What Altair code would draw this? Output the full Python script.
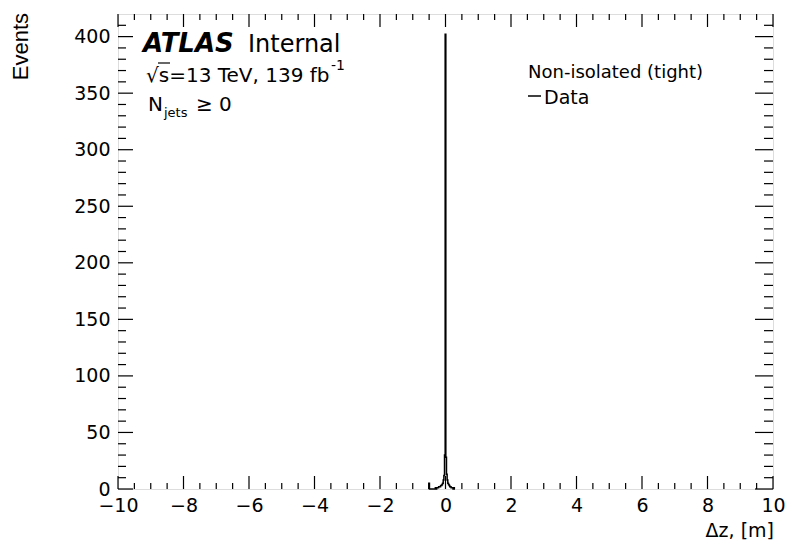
import altair as alt
import pandas as pd

# ---- data ----
dz_center = [-0.50, -0.30, -0.28, -0.26, -0.24, -0.22, -0.20, -0.18, -0.16, -0.14,
             -0.12, -0.10, -0.08, -0.06, -0.04, -0.02, 0.00, 0.02, 0.04, 0.06,
             0.08, 0.10, 0.12, 0.14, 0.16, 0.18, 0.20, 0.22, 0.24, 0.26, 0.28]
events = [5, 1, 0, 1, 1, 1, 2, 2, 2, 3,
          3, 4, 5, 8, 12, 30, 402, 28, 13, 8,
          5, 4, 3, 2, 2, 1, 1, 1, 0, 1, 0]
BIN_W = 0.02

x_major = [-10, -8, -6, -4, -2, 0, 2, 4, 6, 8, 10]
y_major = [0, 50, 100, 150, 200, 250, 300, 350, 400]
x_minor_step = 0.5
y_minor_step = 10

W, H = 655, 475
X_DOM = [-10, 10]
Y_DOM = [0, 420]
FONT = "DejaVu Sans"

# outline of the histogram (step line)
pts = []
prev_hi = None
for c, n in zip(dz_center, events):
    lo, hi = c - BIN_W / 2, c + BIN_W / 2
    if prev_hi is None or abs(lo - prev_hi) > 1e-9:
        if prev_hi is not None:
            pts.append((prev_hi, 0))
        pts.append((lo, 0))
    pts.append((lo, n))
    pts.append((hi, n))
    prev_hi = hi
pts.append((prev_hi, 0))
hist_df = pd.DataFrame({"dz": [p[0] for p in pts], "n": [p[1] for p in pts],
                        "i": list(range(len(pts)))})

xs = alt.Scale(domain=X_DOM, nice=False, zero=False)
ys = alt.Scale(domain=Y_DOM, nice=False, zero=False)

hist = alt.Chart(hist_df).mark_line(color="black", strokeWidth=1.5).encode(
    x=alt.X("dz:Q", scale=xs, axis=alt.Axis(
        values=x_major, title=None, grid=False, domain=False, ticks=False, tickSize=0,
        labelFontSize=19, labelFont=FONT, labelColor="black", labelPadding=7,
        labelFlush=False, labelOverlap=False, format="d")),
    y=alt.Y("n:Q", scale=ys, axis=alt.Axis(
        values=y_major, title=None, grid=False, domain=False, ticks=False, tickSize=0,
        labelFontSize=19, labelFont=FONT, labelColor="black", labelPadding=8,
        labelFlush=False, labelOverlap=False, format="d")),
    order="i:Q",
)

# ---- inward ticks on all four sides (ROOT style) ----
nx_minor = int((X_DOM[1] - X_DOM[0]) / x_minor_step) + 1
xm = [X_DOM[0] + k * x_minor_step for k in range(nx_minor)]
xt = pd.DataFrame({"v": xm, "major": [v in x_major for v in xm]})
ny_minor = int(400 / y_minor_step) + 2
ym = [k * y_minor_step for k in range(ny_minor) if k * y_minor_step <= Y_DOM[1]]
yt = pd.DataFrame({"v": ym, "major": [v in y_major for v in ym]})

def xticks(df, y0, y1):
    return alt.Chart(df).mark_rule(color="black", strokeWidth=1.2).encode(
        x=alt.X("v:Q", scale=xs), y=alt.value(y0), y2=alt.value(y1))

def yticks(df, x0, x1):
    return alt.Chart(df).mark_rule(color="black", strokeWidth=1.2).encode(
        y=alt.Y("v:Q", scale=ys), x=alt.value(x0), x2=alt.value(x1))

xmaj = xt[xt.major]; xmin = xt[~xt.major]
ymaj = yt[yt.major]; ymin = yt[~yt.major]
ticks = [
    xticks(xmaj, H, H - 13), xticks(xmin, H, H - 6),
    xticks(xmaj, 0, 13), xticks(xmin, 0, 6),
    yticks(ymaj, 0, 15), yticks(ymin, 0, 8),
    yticks(ymaj, W, W - 18), yticks(ymin, W, W - 9),
]

def txt(s, x, y, size=19, weight="normal", style="normal", align="left",
        angle=0, font=FONT, baseline="alphabetic"):
    return alt.Chart(pd.DataFrame({"t": [s]})).mark_text(
        align=align, baseline=baseline, fontSize=size, fontWeight=weight,
        fontStyle=style, font=font, angle=angle, color="black"
    ).encode(text="t:N", x=alt.value(x), y=alt.value(y))

labels = [
    txt("ATLAS", 25, 38, size=26, weight="bold", style="italic"),
    txt("Internal", 130, 38, size=24),
    txt("√s=13 TeV, 139 fb", 28, 68, size=20),
    txt("-1", 213, 56, size=14),
    txt("N", 30, 97, size=20),
    txt("jets", 46, 103, size=13),
    txt("≥ 0", 78, 97, size=20),
    txt("Non-isolated (tight)", 410, 64, size=18),
    txt("Data", 426, 90, size=19),
    txt("Events", -90, -1, size=22, align="right", angle=270, font="Liberation Sans"),
    txt("Δz, [m]", W + 1, 523, size=19, align="right"),
]

overbar = alt.Chart(pd.DataFrame({"a": [0]})).mark_rule(color="black", strokeWidth=1.2).encode(
    x=alt.value(40), x2=alt.value(52), y=alt.value(49))
leg_line = alt.Chart(pd.DataFrame({"a": [0]})).mark_rule(color="black", strokeWidth=1.5).encode(
    x=alt.value(410), x2=alt.value(423), y=alt.value(82))

chart = alt.layer(hist, *ticks, overbar, leg_line, *labels).properties(
    width=W, height=H,
    autosize=alt.AutoSizeParams(type="none"),
    padding={"left": 110, "top": 6, "right": 12, "bottom": 58},
).configure_view(stroke="black", strokeWidth=1.5).configure(background="white")

chart.save("out.html", embed_options={"renderer": "svg", "actions": False})
